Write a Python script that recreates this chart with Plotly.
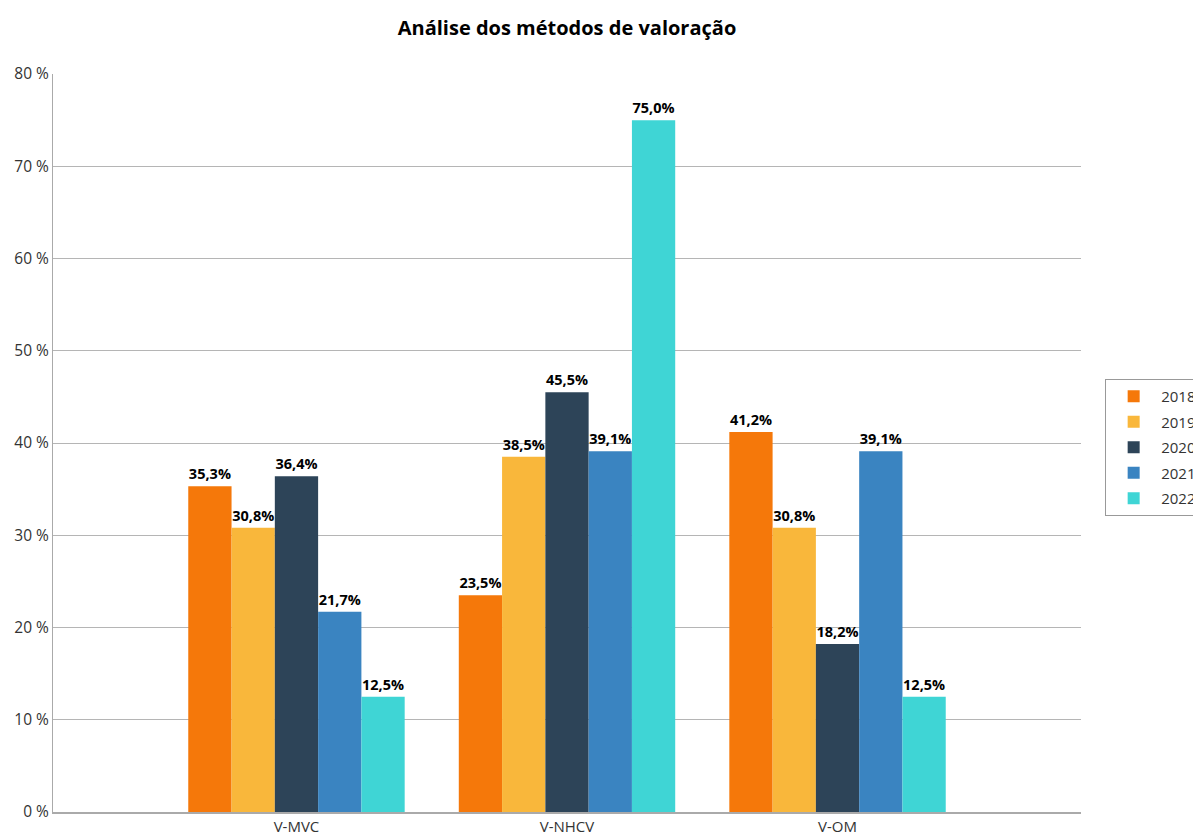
import plotly.graph_objects as go

categories = ["V-MVC", "V-NHCV", "V-OM"]
years = ["2018", "2019", "2020", "2021", "2022"]
values_2018 = [35.3, 23.5, 41.2]
values_2019 = [30.8, 38.5, 30.8]
values_2020 = [36.4, 45.5, 18.2]
values_2021 = [21.7, 39.1, 39.1]
values_2022 = [12.5, 75.0, 12.5]
series = [values_2018, values_2019, values_2020, values_2021, values_2022]
colors = ["#F5780A", "#F9B73B", "#2D4458", "#3A84C1", "#3FD5D5"]
y_ticks = [0, 10, 20, 30, 40, 50, 60, 70, 80]
y_tick_labels = [f"{v} %" for v in y_ticks]

FONT = "Open Sans, Noto Sans, sans-serif"

fig = go.Figure()
for year, vals, col in zip(years, series, colors):
    fig.add_trace(go.Bar(
        name=year, x=categories, y=vals, legendgroup=year,
        marker=dict(color=col, line=dict(width=0)),
        text=[f"{v:.1f}%".replace(".", ",") for v in vals],
        textposition="outside",
        textfont=dict(family=FONT, size=14.5, color="#000000", weight="bold"),
        constraintext="none",
        cliponaxis=False,
    ))

fig.update_layout(
    width=1193, height=833,
    barmode="group", bargap=0.2, bargroupgap=0,
    plot_bgcolor="white", paper_bgcolor="white",
    margin=dict(l=53, r=112, t=74, b=21, autoexpand=False),
    title=dict(text="<b>Análise dos métodos de valoração</b>", xref="paper", x=0.5, xanchor="center",
               y=1 - 28 / 833, yanchor="middle",
               font=dict(family=FONT, size=20, color="#000000")),
    font=dict(family=FONT, size=15, color="#333333"),
    legend=dict(x=1.0235, xanchor="left", y=0.494, yanchor="middle",
                bgcolor="white", bordercolor="#999999", borderwidth=1,
                font=dict(family=FONT, size=15, color="#333333"),
                itemwidth=45, tracegroupgap=3),
    xaxis=dict(range=[-0.9, 2.9], showline=True, linecolor="#aaaaaa", linewidth=2,
               showgrid=False, ticks="", tickfont=dict(size=15, color="#333333")),
    yaxis=dict(range=[0, 80], tickvals=y_ticks, ticktext=y_tick_labels,
               showgrid=True, gridcolor="#b5b5b5", gridwidth=1,
               showline=True, linecolor="#aaaaaa", linewidth=1,
               zeroline=False, ticks="", tickfont=dict(size=15.5, color="#333333")),
)

fig.write_html("out.html")
